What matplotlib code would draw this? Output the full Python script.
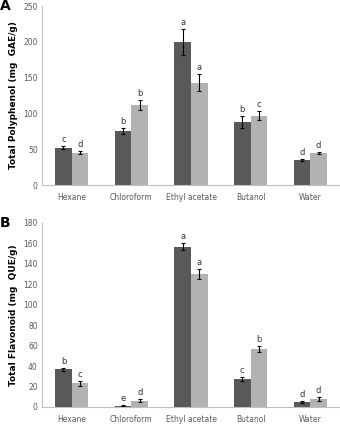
import matplotlib.pyplot as plt
import numpy as np

categories = ['Hexane', 'Chloroform', 'Ethyl acetate', 'Butanol', 'Water']

# Panel A: total polyphenol
poly_dark = [52, 75, 200, 88, 35]
poly_dark_err = [2, 4, 18, 8, 1.5]
poly_light = [45, 112, 143, 97, 45]
poly_light_err = [2, 7, 12, 6, 1.5]
poly_dark_lbl = ['c', 'b', 'a', 'b', 'd']
poly_light_lbl = ['d', 'b', 'a', 'c', 'd']

# Panel B: total flavonoid
flav_dark = [37, 1, 157, 27, 5]
flav_dark_err = [1.5, 0.5, 3, 2, 1]
flav_light = [23, 6, 130, 57, 8]
flav_light_err = [2.5, 1.5, 5, 3, 2]
flav_dark_lbl = ['b', 'e', 'a', 'c', 'd']
flav_light_lbl = ['c', 'd', 'a', 'b', 'd']

dark = '#595959'
light = '#b2b2b2'
axis_gray = '#bfbfbf'
tick_color = '#595959'

W, H = 340, 424
fig = plt.figure(figsize=(W / 100, H / 100), dpi=100)


def panel(rect, d, de, l, le, dl, ll, ymax, ystep, ylabel, letter, off):
    ax = fig.add_axes(rect)
    x = np.arange(len(categories))
    bw = 0.28
    ek = dict(elinewidth=0.8, capsize=1.5, capthick=0.8, ecolor='black')
    ax.bar(x - bw / 2, d, bw, color=dark, yerr=de, error_kw=ek)
    ax.bar(x + bw / 2, l, bw, color=light, yerr=le, error_kw=ek)
    for i in range(len(x)):
        ax.text(x[i] - bw / 2, d[i] + de[i] + off, dl[i], ha='center', va='bottom',
                fontsize=6, color='#333333')
        ax.text(x[i] + bw / 2, l[i] + le[i] + off, ll[i], ha='center', va='bottom',
                fontsize=6, color='#333333')
    ax.set_xlim(-0.5, len(x) - 0.5)
    ax.set_ylim(0, ymax)
    ax.set_yticks(np.arange(0, ymax + 1, ystep))
    ax.set_xticks(x)
    ax.set_xticklabels(categories)
    ax.tick_params(axis='both', length=0, labelsize=5.5, colors=tick_color, pad=3)
    ax.tick_params(axis='x', pad=6)
    for s in ['top', 'right']:
        ax.spines[s].set_visible(False)
    ax.spines['left'].set_color(axis_gray)
    ax.spines['bottom'].set_color(axis_gray)
    ax.spines['left'].set_linewidth(0.8)
    ax.spines['bottom'].set_linewidth(0.8)
    ax.set_ylabel(ylabel, fontsize=6.5, fontweight='bold', labelpad=4)
    fig.text(0.0, rect[1] + rect[3], letter, fontsize=10, fontweight='bold',
             ha='left', va='center')
    return ax


panel([42 / W, 1 - 185 / H, 298 / W, 179 / H],
      poly_dark, poly_dark_err, poly_light, poly_light_err,
      poly_dark_lbl, poly_light_lbl, 250, 50,
      'Total Polyphenol (mg  GAE/g)', 'A', 3)

panel([42 / W, 1 - 407 / H, 298 / W, 184 / H],
      flav_dark, flav_dark_err, flav_light, flav_light_err,
      flav_dark_lbl, flav_light_lbl, 180, 20,
      'Total Flavonoid (mg  QUE/g)', 'B', 2)

fig.savefig('out.png', dpi=100)
